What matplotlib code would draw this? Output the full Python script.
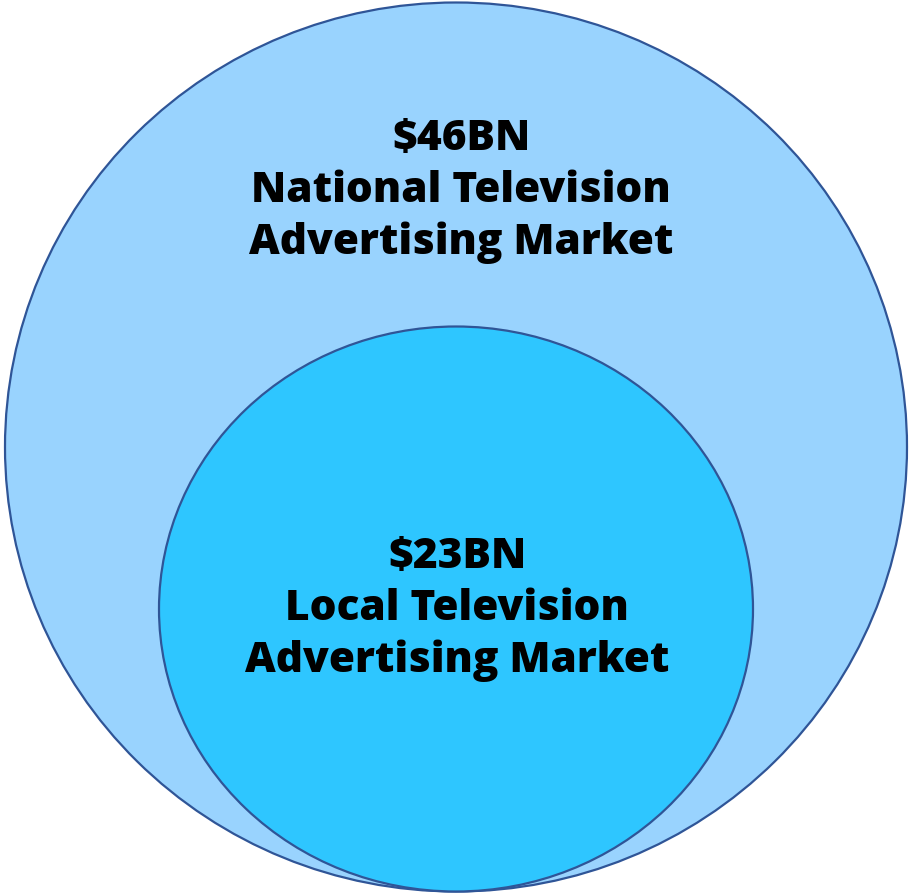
import matplotlib.pyplot as plt
from matplotlib.patches import Ellipse

# market sizes and labels
values = ['$46BN', '$23BN']
names = ['National Television\nAdvertising Market', 'Local Television\nAdvertising Market']
fills = ['#99D3FE', '#2EC6FF']

# circle geometry in pixels (x centre, y centre, width, height)
circles = [(456, 447, 902, 889), (456, 609, 594, 565)]
text_xy = [(461, 191), (457, 609)]

fig = plt.figure(figsize=(9.11, 8.94), dpi=100)
ax = fig.add_axes([0, 0, 1, 1])
ax.set_xlim(0, 911)
ax.set_ylim(894, 0)
ax.axis('off')

for (cx, cy, w, h), col in zip(circles, fills):
    ax.add_patch(Ellipse((cx, cy), w, h, facecolor=col, edgecolor='#2F5597', lw=1.6))

for (tx, ty), v, n in zip(text_xy, values, names):
    ax.text(tx, ty, v + '\n' + n, ha='center', va='center', fontsize=30.5,
            fontweight='heavy', family='Open Sans', linespacing=1.3, parse_math=False)

fig.savefig('out.png', dpi=100)
